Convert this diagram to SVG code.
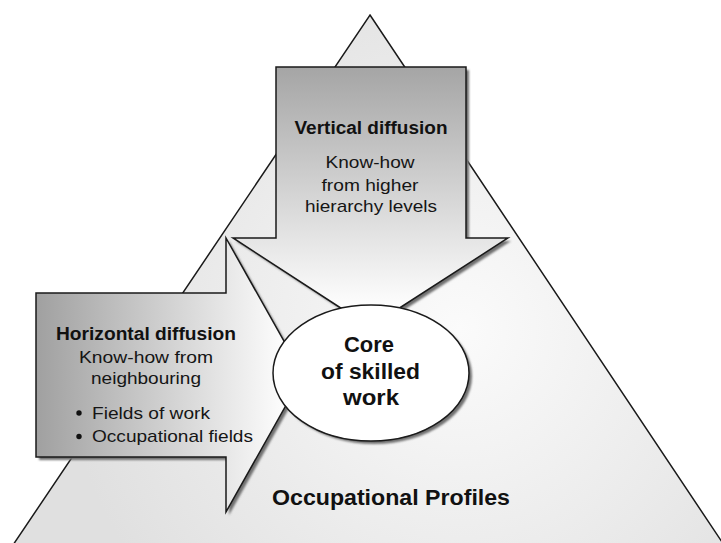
<svg xmlns="http://www.w3.org/2000/svg" width="721" height="543" viewBox="0 0 721 543">
  <defs>
    <radialGradient id="triFill" cx="460" cy="330" r="400" gradientUnits="userSpaceOnUse">
      <stop offset="0" stop-color="#fbfbfb"/>
      <stop offset="1" stop-color="#e0e0e0"/>
    </radialGradient>
    <linearGradient id="vFill" x1="0" y1="67" x2="0" y2="310" gradientUnits="userSpaceOnUse">
      <stop offset="0" stop-color="#a5a5a5"/>
      <stop offset="1" stop-color="#ffffff"/>
    </linearGradient>
    <linearGradient id="hFill" x1="36" y1="0" x2="290" y2="0" gradientUnits="userSpaceOnUse">
      <stop offset="0" stop-color="#a0a0a0"/>
      <stop offset="1" stop-color="#ffffff"/>
    </linearGradient>
    <filter id="blur" x="-10%" y="-10%" width="120%" height="120%">
      <feGaussianBlur stdDeviation="0.9"/>
    </filter>
  </defs>
  <style>
    .outline { stroke: #1a1a1a; stroke-width: 1.5; stroke-linejoin: miter; }
    .shadow { fill: #707070; filter: url(#blur); }
    .b { font-family: "Liberation Sans", Arial, sans-serif; font-weight: bold; fill: #111; }
    .r { font-family: "Liberation Sans", Arial, sans-serif; fill: #151515; }
  </style>
  <rect x="0" y="0" width="721" height="543" fill="#ffffff"/>

  <g id="profiles">
    <polygon points="370,15 724,545 13,545" fill="url(#triFill)" class="outline"/>
    <text class="b" x="391" y="505" font-size="22" text-anchor="middle" textLength="238" lengthAdjust="spacingAndGlyphs">Occupational Profiles</text>
  </g>

  <g id="connectors"></g>

  <g id="vertical-diffusion">
    <polygon class="shadow" points="279,70 469,70 469,241 511,241 373,330 236,241 279,241"/>
    <polygon points="276,67 466,67 466,238 508,238 370,327 233,238 276,238" fill="url(#vFill)" class="outline"/>
    <text class="b" x="371" y="134" font-size="18" text-anchor="middle" textLength="153" lengthAdjust="spacingAndGlyphs">Vertical diffusion</text>
    <text class="r" x="370" y="168" font-size="17" text-anchor="middle" textLength="89" lengthAdjust="spacingAndGlyphs">Know-how</text>
    <text class="r" x="370" y="191" font-size="17" text-anchor="middle" textLength="97" lengthAdjust="spacingAndGlyphs">from higher</text>
    <text class="r" x="371" y="212" font-size="17" text-anchor="middle" textLength="132" lengthAdjust="spacingAndGlyphs">hierarchy levels</text>
  </g>

  <g id="horizontal-diffusion">
    <polygon class="shadow" points="39,296 229,296 229,241 306,378 229,515 229,460 39,460"/>
    <polygon points="36,293 226,293 226,238 303,375 226,512 226,457 36,457" fill="url(#hFill)" class="outline"/>
    <text class="b" x="146" y="340" font-size="18" text-anchor="middle" textLength="180" lengthAdjust="spacingAndGlyphs">Horizontal diffusion</text>
    <text class="r" x="146" y="362.5" font-size="17" text-anchor="middle" textLength="134" lengthAdjust="spacingAndGlyphs">Know-how from</text>
    <text class="r" x="146" y="383.5" font-size="17" text-anchor="middle" textLength="110" lengthAdjust="spacingAndGlyphs">neighbouring</text>
    <circle cx="79" cy="413" r="2.7" fill="#111"/>
    <text class="r" x="92" y="418.5" font-size="17" textLength="118" lengthAdjust="spacingAndGlyphs">Fields of work</text>
    <circle cx="79" cy="436.5" r="2.7" fill="#111"/>
    <text class="r" x="92" y="442" font-size="17" textLength="161" lengthAdjust="spacingAndGlyphs">Occupational fields</text>
  </g>

  <g id="core">
    <ellipse class="shadow" cx="374" cy="376" rx="98" ry="68"/>
    <ellipse cx="371" cy="373" rx="98" ry="68" fill="#ffffff" class="outline"/>
    <text class="b" x="369" y="351.5" font-size="22" text-anchor="middle" textLength="50" lengthAdjust="spacingAndGlyphs">Core</text>
    <text class="b" x="370.5" y="378.5" font-size="22" text-anchor="middle" textLength="99" lengthAdjust="spacingAndGlyphs">of skilled</text>
    <text class="b" x="371" y="405" font-size="22" text-anchor="middle" textLength="56" lengthAdjust="spacingAndGlyphs">work</text>
  </g>
</svg>
